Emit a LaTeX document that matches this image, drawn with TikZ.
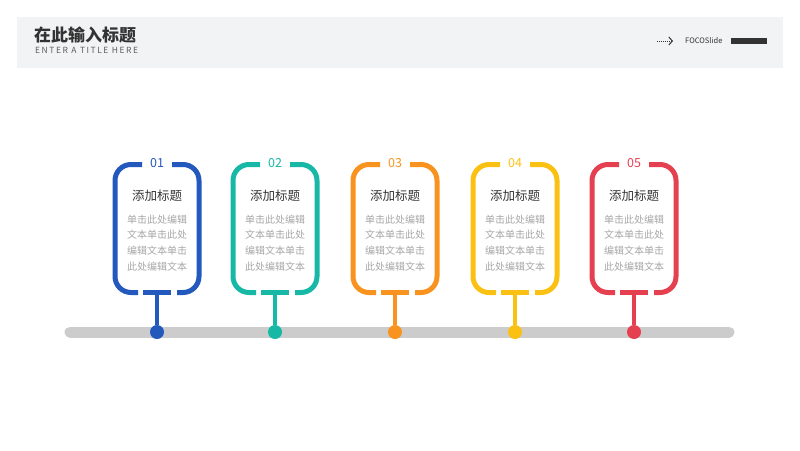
\documentclass[tikz,border=0pt]{standalone}
\usepackage{fontspec}
\setmainfont{Noto Sans CJK SC}
\usetikzlibrary{arrows.meta}

\definecolor{headbg}{HTML}{F2F3F5}
\definecolor{darktext}{HTML}{333333}
\definecolor{softtext}{HTML}{A6A6A6}
\definecolor{railgray}{HTML}{CCCCCC}
\definecolor{cardblue}{HTML}{2358BD}
\definecolor{cardteal}{HTML}{17B9A6}
\definecolor{cardorange}{HTML}{F7931E}
\definecolor{cardyellow}{HTML}{FBC112}
\definecolor{cardred}{HTML}{E5404F}

\begin{document}
\begin{tikzpicture}[x=1pt, y=-1pt,
    frame/.style={line width=5pt, rounded corners=16pt},
    numlabel/.style={font=\fontsize{12.5}{13}\selectfont, inner sep=0pt},
    cardtitle/.style={font=\fontsize{12.5}{14}\selectfont, text=darktext, inner sep=0pt},
    cardbody/.style={font=\fontsize{10}{15.7}\selectfont, text=softtext,
                     align=center, inner sep=0pt},
    dot/.style={circle, minimum size=14pt, inner sep=0pt}
  ]
  \useasboundingbox (0,0) rectangle (800,450);

  % header band
  \fill[headbg] (17,17) rectangle (783,68);
  \node[anchor=west, inner sep=0pt, text=darktext,
        font=\fontsize{17}{20}\selectfont\bfseries] (head) at (34,35) {在此输入标题};
  \node[anchor=west, inner sep=0pt, text=darktext!80,
        font=\fontsize{8.5}{9}\selectfont\addfontfeature{LetterSpace=18}] (subhead) at (35,50) {ENTER A TITLE HERE};
  \coordinate (arrowtail) at (657,41);
  \coordinate (arrowtip) at (673,41);
  \draw[darktext, line width=1pt, densely dotted,
        -{Straight Barb[length=3.5pt, width=8pt]}] (arrowtail) -- (arrowtip);
  \node[anchor=west, inner sep=0pt, text=darktext,
        font=\fontsize{7.5}{8}\selectfont] (brand) at (685,41) {FOCOSlide};
  \node[anchor=west, fill=darktext, minimum width=36pt, minimum height=6pt,
        inner sep=0pt] (brandbar) at (731,41) {};

  % timeline rail
  \coordinate (rail-l) at (70,332);
  \coordinate (rail-r) at (729,332);
  \draw[railgray, line width=11pt, line cap=round] (rail-l) -- (rail-r);

  % cards
  \foreach \n/\cx/\col in {01/157/cardblue, 02/275/cardteal, 03/395/cardorange,
                           04/515/cardyellow, 05/634/cardred}{
    \draw[frame, \col] (\cx-15,164.5) -- (\cx-42,164.5) -- (\cx-42,292.5) -- (\cx-19,292.5);
    \draw[frame, \col] (\cx+15,164.5) -- (\cx+42,164.5) -- (\cx+42,292.5) -- (\cx+20,292.5);
    \draw[\col, line width=5pt] (\cx-14,292.5) -- (\cx+14,292.5);
    \node[numlabel, text=\col] (num-\n) at (\cx,163.5) {\n};
    \node[cardtitle] (title-\n) at (\cx,196) {添加标题};
    \node[cardbody] (body-\n) at (\cx,243) {单击此处编辑\\文本单击此处\\编辑文本单击\\此处编辑文本};
    \coordinate (stem-\n) at (\cx,295);
    \node[dot, fill=\col] (dot-\n) at (\cx,332) {};
    \draw[\col, line width=3.5pt] (stem-\n) -- (dot-\n);
  }
\end{tikzpicture}
\end{document}
